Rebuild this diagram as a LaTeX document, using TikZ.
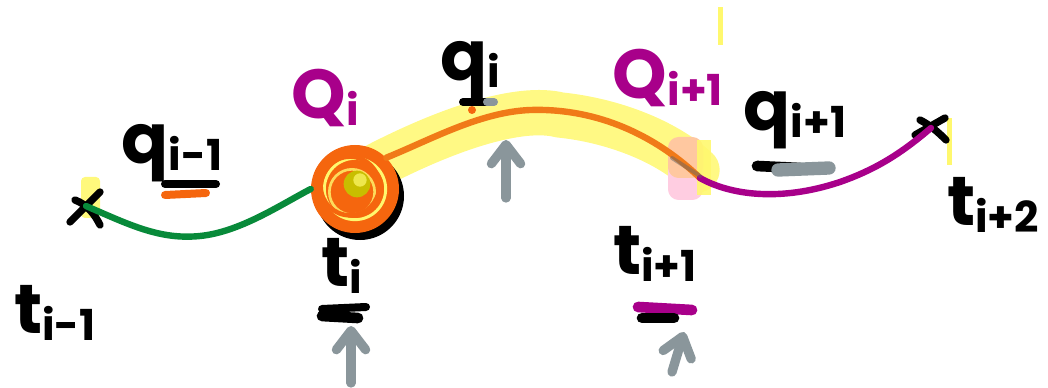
\documentclass[tikz,border=0pt]{standalone}
\usepackage{fontspec}
\setmainfont{Poppins}
\usetikzlibrary{arrows.meta}

\definecolor{penGreen}{RGB}{8,138,58}
\definecolor{penOrange}{RGB}{240,122,24}
\definecolor{penRing}{RGB}{245,102,14}
\definecolor{penMagenta}{RGB}{168,0,138}
\definecolor{penGray}{RGB}{138,150,155}
\definecolor{hiYellow}{RGB}{255,248,110}
\definecolor{hiOlive}{RGB}{200,190,0}
\definecolor{hiPeach}{RGB}{255,200,160}
\definecolor{hiPink}{RGB}{255,205,225}

% label with a handwritten-style subscript
\newcommand\lbl[2]{#1\raisebox{-0.1em}{\fontsize{32}{32}\selectfont #2}}

\tikzset{
  pen/.style={line width=4.8pt, line cap=round, line join=round},
  marker/.style={line width=6pt, line cap=round},
  hilite/.style={draw=hiYellow, line width=34pt, line cap=round, opacity=0.85},
  txt/.style={font=\fontsize{52}{52}\selectfont\bfseries, inner sep=0pt, text=black},
  qtxt/.style={txt, text=penMagenta},
  pointer/.style={draw=penGray, line width=7pt, line cap=round,
    -{Straight Barb[angle=75:18pt, round]}},
}

\begin{document}
\begin{tikzpicture}[x=0.75pt, y=-0.75pt]
\useasboundingbox (0,0) rectangle (1048,388);

% ---- highlighter strokes (under the pen) ----
\coordinate (b0) at (378,165);
\coordinate (b1) at (697,170);
\draw[hilite] (b0) .. controls (450,128) and (520,105) .. (560,115)
  .. controls (610,120) and (665,140) .. (b1);
\fill[hiYellow, opacity=0.9, rounded corners=3pt] (81,177) rectangle (100,218);
\fill[hiYellow] (947,118) rectangle (952,165);
\fill[hiYellow] (718,7) rectangle (723,45);
\fill[hiPink, rounded corners=8pt] (668,140) rectangle (703,200);
\fill[hiPeach, rounded corners=8pt] (668,137) rectangle (703,178);
\fill[hiYellow, opacity=0.9] (697,140) rectangle (711,195);

% ---- end points ----
\coordinate (x0) at (86,206);
\coordinate (x3) at (931,128);
\node[circle, fill=black, minimum size=66pt, inner sep=0pt] (Qshadow) at (360,196) {};
\node[circle, fill=penRing, minimum size=66pt, inner sep=0pt] (Qi) at (355,189) {};
\coordinate (j1) at (700,178);

% crosses at the outer knots
\draw[pen, line width=5.5pt] (70,222) -- (100,192);
\draw[pen, line width=5.5pt] (75,200) .. controls (88,205) and (95,215) .. (100,225);
\draw[pen, line width=5.5pt] (915,135) -- (945,118);
\draw[pen, line width=5.5pt] (920,120) .. controls (930,125) and (938,132) .. (946,140);

% ---- curve pieces ----
\draw[pen, penGreen] (x0) .. controls (130,225) and (160,240) .. (200,236)
  .. controls (240,232) and (280,205) .. (Qi.west);
\draw[pen, penOrange] (Qi.north east) .. controls (430,140) and (480,112) .. (530,110)
  .. controls (590,108) and (650,130) .. (j1);
\draw[pen, penMagenta] (j1) .. controls (730,195) and (780,202) .. (840,182)
  .. controls (880,168) and (905,150) .. (x3);
\draw[line width=3pt, draw=black!60, opacity=0.5, line cap=round] (672,158) -- (700,176);

% scribbled rings of the knot
\draw[line width=2.2pt, hiYellow] (355,189) circle[radius=23pt];
\draw[line width=2pt, hiYellow!80!penRing] (352,192) circle[radius=17pt];
\fill[hiOlive] (357,184) circle[radius=10pt];
\fill[hiYellow!70!hiOlive] (360,180) circle[radius=5pt];
\draw[line width=3.4pt, penRing] (350,186) circle[radius=22pt];

% ---- labels ----
\node[txt] (tm1) at (55,313) {\lbl{t}{i-1}};
\node[txt] (qm1) at (172,153) {\lbl{q}{i-1}};
\node[txt] (ti)  at (342,266) {\lbl{t}{i}};
\node[qtxt] (Qil) at (325,98) {\lbl{Q}{i}};
\node[txt] (qi)  at (470,70) {\lbl{q}{i}};
\node[qtxt] (Qip) at (668,78) {\lbl{Q}{i+1}};
\node[txt] (qip) at (795,120) {\lbl{q}{i+1}};
\node[txt] (tip) at (655,254) {\lbl{t}{i+1}};
\node[txt] (tipp) at (993,205) {\lbl{t}{i+2}};

% underlines
\draw[marker, black] (165,184) -- (216,184);
\draw[marker, penRing] (165,195) -- (206,193);
\draw[marker, black] (463,102) -- (488,102);
\draw[marker, penGray] (487,102) -- (494,102);
\fill[penRing] (472,110) circle[radius=3pt];
\draw[marker, black, line width=8pt] (757,166) -- (800,168);
\draw[marker, penGray, line width=10pt] (778,170) -- (829,168);
\draw[marker, black] (322,309) -- (366,307);
\draw[marker, black, line width=8pt] (322,316) -- (358,318);
\draw[marker, penMagenta, line width=8pt] (638,307) -- (692,310);
\draw[marker, black, line width=8pt] (642,318) -- (674,318);

% gray pointers
\coordinate (p1) at (351,383);
\coordinate (p1e) at (351,326);
\coordinate (p2) at (506,198);
\coordinate (p2e) at (506,140);
\coordinate (p3) at (672,372);
\coordinate (p3e) at (684,332);
\draw[pointer] (p1) -- (p1e);
\draw[pointer] (p2) -- (p2e);
\draw[pointer] (p3) -- (p3e);
\end{tikzpicture}
\end{document}
